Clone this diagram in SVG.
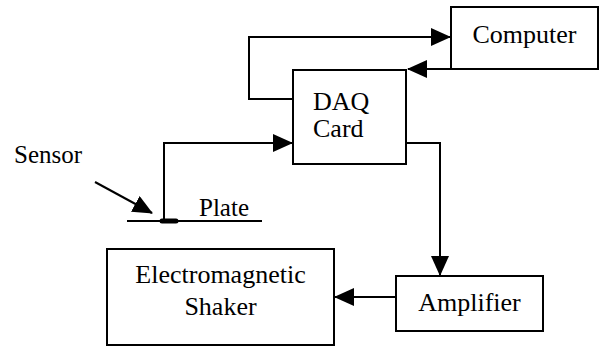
<svg xmlns="http://www.w3.org/2000/svg" width="600" height="348" viewBox="0 0 600 348">
<style>
  .box { fill: #fff; stroke: #000; stroke-width: 2; }
  .lbl { font-family: "Liberation Serif", "Times New Roman", serif; font-size: 26px; fill: #000; }
  .sm { font-size: 25px; }
  .wire { fill: none; stroke: #000; stroke-width: 2; }
</style>
<defs>
  <marker id="ah" markerUnits="userSpaceOnUse" markerWidth="20" markerHeight="18" refX="19" refY="9" orient="auto" viewBox="0 0 20 18">
    <path d="M0,0 L20,9 L0,18 Z" fill="#000"/>
  </marker>
</defs>
<rect width="600" height="348" fill="#fff"/>

<g id="connectors">
  <path class="wire" d="M293,99 H249 V37 H450" marker-end="url(#ah)"/>
  <path class="wire" d="M451,69 H408" marker-end="url(#ah)"/>
  <path class="wire" d="M164,221 V143 H292" marker-end="url(#ah)"/>
  <path class="wire" d="M406,143 H440 V275" marker-end="url(#ah)"/>
  <path class="wire" d="M396,297 H335" marker-end="url(#ah)"/>
  <path class="wire" d="M95,182 L152,213" marker-end="url(#ah)"/>
</g>

<g id="computer">
  <rect class="box" x="451" y="7" width="147" height="62"/>
  <text class="lbl" x="524.5" y="43" text-anchor="middle">Computer</text>
</g>

<g id="daq">
  <rect class="box" x="293" y="70" width="113" height="94"/>
  <text class="lbl" x="313" y="110">DAQ</text>
  <text class="lbl" x="313" y="137">Card</text>
</g>

<g id="plate">
  <line x1="127" y1="221" x2="262" y2="221" stroke="#000" stroke-width="2"/>
  <text class="lbl sm" x="199" y="216">Plate</text>
</g>

<g id="sensor">
  <line x1="162" y1="221" x2="176" y2="221" stroke="#000" stroke-width="5" stroke-linecap="round"/>
  <text class="lbl sm" x="14" y="163">Sensor</text>
</g>

<g id="shaker">
  <rect class="box" x="107" y="249" width="227" height="96"/>
  <text class="lbl" x="220.5" y="283" text-anchor="middle">Electromagnetic</text>
  <text class="lbl" x="220.5" y="315" text-anchor="middle">Shaker</text>
</g>

<g id="amplifier">
  <rect class="box" x="396" y="276" width="147" height="55"/>
  <text class="lbl" x="469.5" y="311" text-anchor="middle">Amplifier</text>
</g>
</svg>
